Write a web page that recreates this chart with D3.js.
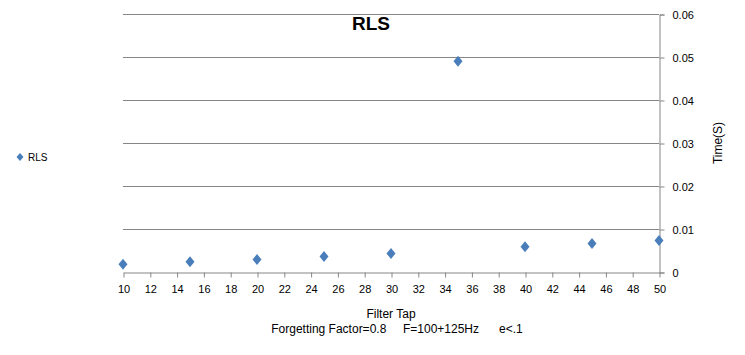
<!DOCTYPE html>
<html>
<head>
<meta charset="utf-8">
<script src="https://cdn.jsdelivr.net/npm/d3@7"></script>
<style>
  body { margin: 0; background: #fff; }
  text { font-family: "Liberation Sans", Arial, sans-serif; fill: #000; }
</style>
</head>
<body>
<svg id="chart" width="745" height="355"></svg>
<script>
// data
var taps = [10, 15, 20, 25, 30, 35, 40, 45, 50];
var rlsTime = [0.0018, 0.0024, 0.0029, 0.0036, 0.0043, 0.049, 0.0059, 0.0066, 0.0073];
var xTicks = d3.range(10, 51, 2);
var yTicks = [0, 0.01, 0.02, 0.03, 0.04, 0.05, 0.06];

var svg = d3.select("#chart"),
    plotLeft = 123, plotRight = 659, plotTop = 14, plotBottom = 272,
    axisColor = "#868686",
    dotColor = "#4a7ebb";

var x = d3.scaleLinear().domain([10, 50]).range([plotLeft, plotRight]);
var y = d3.scaleLinear().domain([0, 0.06]).range([plotBottom, plotTop]);

// excel-style diamond, a bit wider than d3's
function excelDiamond(w, h) {
  return {
    draw: function(ctx) {
      ctx.moveTo(0, -h); ctx.lineTo(w, 0); ctx.lineTo(0, h); ctx.lineTo(-w, 0); ctx.closePath();
    }
  };
}

// horizontal gridlines
svg.append("g")
  .selectAll("line")
  .data(yTicks.slice(1))
  .enter().append("line")
    .attr("x1", plotLeft).attr("x2", plotRight)
    .attr("y1", function(d) { return Math.round(y(d)) + 0.5; })
    .attr("y2", function(d) { return Math.round(y(d)) + 0.5; })
    .attr("stroke", axisColor);

// y axis on the right
var yAxis = svg.append("g")
  .attr("transform", "translate(" + (plotRight + 0.5) + ",0.5)")
  .call(d3.axisRight(y).tickValues(yTicks).tickSize(5).tickPadding(8)
    .tickFormat(function(d) { return d === 0 ? "0" : d3.format(".2f")(d); }));
yAxis.select(".domain").attr("stroke", axisColor);
yAxis.selectAll(".tick line").attr("stroke", axisColor);
yAxis.selectAll("text").attr("font-size", 11).style("fill", "#000");

// x axis
var xAxis = svg.append("g")
  .attr("transform", "translate(0.5," + (plotBottom + 0.5) + ")")
  .call(d3.axisBottom(x).tickValues(xTicks).tickSize(5).tickPadding(8).tickSizeOuter(0));
xAxis.select(".domain").attr("stroke", axisColor);
xAxis.selectAll(".tick line").attr("stroke", axisColor);
xAxis.selectAll("text").attr("font-size", 11).style("fill", "#000");

// points
var diamond = d3.symbol().type(excelDiamond(4.5, 5.5));
svg.append("g")
  .selectAll("path")
  .data(taps)
  .enter().append("path")
    .attr("d", diamond)
    .attr("transform", function(d, i) { return "translate(" + x(d) + "," + y(rlsTime[i]) + ")"; })
    .attr("fill", dotColor);

// title
svg.append("text")
  .attr("x", 371).attr("y", 30)
  .attr("text-anchor", "middle")
  .attr("font-size", 19).attr("font-weight", "bold")
  .text("RLS");

// axis titles
svg.append("text")
  .attr("transform", "translate(722,143)rotate(-90)")
  .attr("text-anchor", "middle")
  .attr("font-size", 12)
  .text("Time(S)");

svg.append("text")
  .attr("x", 391).attr("y", 318)
  .attr("text-anchor", "middle")
  .attr("font-size", 12)
  .text("Filter Tap");

svg.append("text")
  .attr("x", 397).attr("y", 333)
  .attr("text-anchor", "middle")
  .attr("font-size", 12)
  .style("white-space", "pre")
  .text("Forgetting Factor=0.8     F=100+125Hz      e<.1");

// legend
var legend = svg.append("g").attr("transform", "translate(20,157)");
legend.append("path").attr("d", d3.symbol().type(excelDiamond(3.5, 4))).attr("fill", dotColor);
legend.append("text").attr("x", 8).attr("dy", "0.35em").attr("font-size", 10).text("RLS");
</script>
</body>
</html>
